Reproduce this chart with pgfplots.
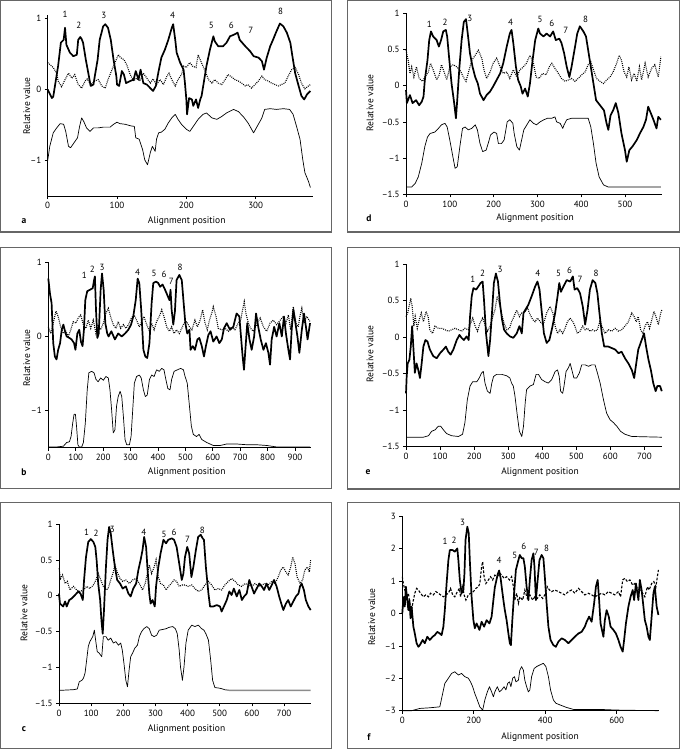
\documentclass[border=0pt]{standalone}
\usepackage{fontspec}
\setmainfont{PT Sans}
\usepackage{pgfplots}
\pgfplotsset{compat=1.18}
\newcommand\fs{\fontsize{9}{10.5}\selectfont}
\newcommand\fl{\fontsize{9.5}{11}\selectfont}
\tikzset{pk/.style={font=\fs, inner sep=0pt}}
\pgfplotsset{
 panel/.style={scale only axis, anchor=south west, axis lines=left,
   axis line style={-, line width=0.6pt}, tick align=outside, major tick length=3pt,
   tick style={line width=0.6pt, black}, clip=false, ticklabel style={font=\fs},
   /pgf/number format/assume math mode=true, xmin=0, enlargelimits=false},
 tl/.style={black, line width=1.7pt, line join=round},
 dl/.style={black, line width=1.1pt, dash pattern=on 0.9pt off 1.1pt},
 nl/.style={black, line width=0.7pt, line join=round},
}
\begin{document}
\begin{tikzpicture}
\useasboundingbox (0,0) rectangle (680pt,-749pt);
\begin{scope}[draw=black!60, line width=1.2pt]
\draw (0.6pt,-0.6pt) rectangle (331.7pt,-232pt);
\draw (347.5pt,-0.6pt) rectangle (679.4pt,-232pt);
\draw (0.6pt,-247.5pt) rectangle (331.7pt,-488.5pt);
\draw (347.5pt,-247.5pt) rectangle (679.4pt,-489pt);
\draw (0.6pt,-502.5pt) rectangle (331.7pt,-748.4pt);
\draw (347.5pt,-502.5pt) rectangle (679.4pt,-748.4pt);
\end{scope}
% ---------- panel a ----------
\begin{axis}[panel, at={(47.7pt,-196pt)}, width=264.8pt, height=181pt,
  xmax=382, ymin=-1.5, ymax=1.05, xtick={0,100,200,300},
  ytick={-1,0,1}, yticklabels={\textendash1,0,1}]
\addplot[tl] coordinates {(0,0.0)(6,-0.12)(8,-0.1)(15,0.33)(19,0.66)(23,0.7)(25,0.87)(27,0.63)(32,0.52)(37,0.47)(42,0.49)(44,0.7)(47,0.74)(49,0.71)(51,0.66)(55,0.42)(59,0.21)(62,0.05)(66,0.07)(68,0.19)(72,0.42)(75,0.7)(80,0.89)(83,0.92)(87,0.87)(91,0.7)(95,0.42)(99,0.19)(100,0.07)(103,0.05)(107,0.26)(110,0.21)(113,0.09)(119,0.12)(124,0.14)(127,0.26)(131,0.14)(134,0.28)(138,0.09)(143,0.07)(148,0.02)(152,-0.02)(156,0.05)(160,0.26)(164,0.45)(169,0.56)(174,0.7)(179,0.87)(181,0.92)(184,0.7)(186,0.52)(191,0.38)(196,0.28)(198,0.09)(200,-0.14)(201,-0.35)(204,-0.12)(208,-0.14)(210,-0.23)(214,-0.14)(217,-0.26)(220,-0.14)(222,-0.09)(225,0.09)(229,0.33)(234,0.56)(239,0.75)(241,0.68)(246,0.61)(253,0.61)(258,0.66)(263,0.75)(268,0.77)(274,0.8)(277,0.7)(285,0.61)(292,0.54)(297,0.47)(304,0.45)(309,0.4)(312,0.28)(316,0.45)(321,0.61)(325,0.7)(330,0.82)(335,0.93)(340,0.89)(345,0.8)(350,0.66)(353,0.47)(357,0.23)(362,0.05)(366,-0.09)(370,-0.14)(374,-0.07)(379,-0.02)};
\addplot[dl] coordinates {(0,0.38)(8,0.31)(13,0.23)(15,0.12)(20,0.04)(25,0.14)(30,0.23)(35,0.16)(39,0.21)(44,0.07)(49,0.02)(54,0.12)(57,0.15)(62,0.07)(68,0.12)(73,0.14)(78,0.05)(83,0.02)(87,0.14)(92,0.26)(97,0.38)(102,0.49)(105,0.45)(110,0.42)(114,0.35)(119,0.21)(124,0.12)(128,0.16)(133,0.12)(138,0.23)(143,0.16)(148,0.09)(152,0.15)(157,0.07)(162,0.14)(167,0.07)(172,0.19)(175,0.23)(179,0.14)(184,0.05)(188,0.14)(193,0.21)(196,0.33)(200,0.31)(205,0.38)(209,0.33)(214,0.31)(217,0.49)(220,0.42)(224,0.33)(227,0.26)(232,0.14)(237,0.09)(241,0.14)(246,0.09)(251,0.07)(256,0.14)(260,0.21)(265,0.18)(270,0.14)(275,0.12)(280,0.09)(285,0.05)(289,0.07)(294,0.02)(299,0.07)(304,0.12)(309,0.19)(313,0.14)(318,0.12)(323,0.09)(328,0.07)(333,0.05)(337,0.07)(342,0.09)(347,0.19)(352,0.28)(357,0.31)(362,0.21)(366,0.09)(371,0.01)(376,0.05)(379,0.07)};
\addplot[nl] coordinates {(0,-1.0)(3,-0.8)(8,-0.61)(13,-0.54)(18,-0.48)(23,-0.49)(26,-0.59)(30,-0.8)(33,-0.82)(38,-0.75)(43,-0.68)(46,-0.52)(49,-0.4)(52,-0.45)(56,-0.54)(61,-0.59)(66,-0.54)(73,-0.54)(80,-0.53)(90,-0.53)(95,-0.49)(100,-0.46)(104,-0.48)(112,-0.49)(119,-0.51)(125,-0.52)(127,-0.68)(132,-0.7)(137,-0.85)(140,-0.99)(144,-1.06)(148,-0.89)(151,-0.8)(155,-0.87)(157,-0.7)(160,-0.61)(164,-0.6)(169,-0.56)(174,-0.47)(179,-0.4)(184,-0.35)(188,-0.42)(193,-0.49)(200,-0.56)(205,-0.59)(210,-0.52)(217,-0.42)(224,-0.35)(229,-0.33)(237,-0.4)(244,-0.42)(251,-0.38)(258,-0.33)(268,-0.28)(275,-0.31)(282,-0.38)(289,-0.47)(293,-0.54)(297,-0.61)(301,-0.54)(309,-0.4)(313,-0.28)(321,-0.27)(330,-0.28)(340,-0.27)(349,-0.28)(354,-0.35)(359,-0.52)(364,-0.7)(368,-0.99)(371,-1.17)(376,-1.29)(379,-1.38)};
\node[pk] at (axis cs:25,1.06) {1};
\node[pk] at (axis cs:45,0.9) {2};
\node[pk] at (axis cs:81,1.05) {3};
\node[pk] at (axis cs:180,1.05) {4};
\node[pk] at (axis cs:236,0.9) {5};
\node[pk] at (axis cs:265,0.9) {6};
\node[pk] at (axis cs:293,0.84) {7};
\node[pk] at (axis cs:336,1.1) {8};
\end{axis}
% ---------- panel d ----------
\begin{axis}[panel, at={(406pt,-194.3pt)}, width=256.2pt, height=181pt,
  xmax=585, ymin=-1.5, ymax=1, xtick={0,100,200,300,400,500},
  ytick={-1.5,-1,-0.5,0,0.5,1}, yticklabels={\textendash1.5,\textendash1,\textendash0.5,0,0.5,1}]
\addplot[tl] coordinates {(0,-0.06)(2,-0.24)(9,-0.13)(15,-0.24)(23,-0.2)(30,-0.27)(36,-0.22)(40,-0.15)(43,0.08)(49,0.35)(53,0.63)(57,0.75)(62,0.68)(70,0.63)(75,0.54)(80,0.63)(85,0.75)(91,0.77)(94,0.68)(99,0.35)(104,0.03)(110,-0.24)(114,-0.45)(117,-0.2)(122,0.26)(127,0.63)(132,0.88)(137,0.92)(141,0.72)(146,0.45)(152,0.26)(158,0.12)(164,0.03)(169,-0.11)(177,-0.2)(184,-0.13)(192,-0.08)(199,-0.01)(207,0.08)(215,0.17)(222,0.31)(230,0.54)(237,0.72)(241,0.77)(245,0.59)(251,0.26)(256,0.08)(262,-0.01)(266,-0.11)(272,-0.04)(278,-0.15)(283,0.03)(289,0.35)(295,0.63)(302,0.79)(306,0.72)(314,0.68)(321,0.72)(329,0.68)(336,0.75)(342,0.63)(350,0.65)(355,0.59)(361,0.45)(367,0.26)(373,0.12)(378,0.26)(386,0.54)(391,0.72)(397,0.82)(405,0.75)(411,0.68)(416,0.49)(422,0.26)(428,0.03)(434,-0.2)(443,-0.27)(452,-0.34)(458,-0.52)(462,-0.61)(467,-0.41)(473,-0.34)(479,-0.24)(485,-0.38)(492,-0.66)(500,-0.89)(504,-1.05)(510,-0.89)(517,-0.84)(527,-0.75)(534,-0.66)(542,-0.57)(548,-0.47)(553,-0.29)(559,-0.38)(565,-0.47)(572,-0.59)(576,-0.43)(582,-0.47)};
\addplot[dl] coordinates {(0,0.49)(5,0.35)(9,0.17)(13,0.26)(18,0.12)(24,0.26)(30,0.1)(38,0.06)(43,0.12)(51,0.19)(56,0.31)(62,0.22)(70,0.08)(76,0.15)(81,0.29)(87,0.19)(93,0.08)(100,0.26)(108,0.29)(116,0.26)(123,0.22)(131,0.12)(137,0.06)(142,0.17)(150,0.35)(158,0.42)(165,0.49)(173,0.38)(178,0.22)(184,0.1)(192,0.19)(199,0.31)(207,0.38)(215,0.26)(222,0.17)(230,0.19)(237,0.1)(245,0.22)(253,0.12)(260,0.22)(268,0.26)(275,0.31)(283,0.42)(291,0.31)(297,0.12)(304,0.1)(312,0.17)(320,0.15)(327,0.26)(333,0.31)(340,0.24)(348,0.17)(355,0.1)(363,0.06)(371,0.08)(378,0.1)(386,0.06)(393,0.1)(401,0.15)(409,0.19)(416,0.29)(422,0.33)(428,0.22)(435,0.1)(443,0.06)(451,0.03)(458,0.08)(466,0.12)(473,0.19)(481,0.31)(487,0.42)(492,0.35)(498,0.19)(504,0.12)(509,0.26)(515,0.08)(521,0.17)(527,0.06)(533,0.26)(538,0.08)(546,0.31)(553,0.12)(561,0.24)(568,0.29)(576,0.12)(582,0.4)};
\addplot[nl] coordinates {(0,-1.4)(13,-1.4)(21,-1.35)(28,-1.26)(36,-1.07)(43,-0.84)(49,-0.71)(55,-0.66)(66,-0.64)(74,-0.59)(81,-0.54)(89,-0.52)(94,-0.57)(100,-0.75)(107,-0.98)(112,-1.14)(117,-1.12)(123,-0.84)(129,-0.59)(135,-0.57)(142,-0.61)(150,-0.59)(158,-0.54)(163,-0.61)(169,-0.8)(175,-0.91)(183,-0.89)(189,-0.77)(193,-0.68)(201,-0.64)(207,-0.66)(211,-0.8)(218,-0.8)(224,-0.75)(228,-0.61)(231,-0.5)(237,-0.47)(244,-0.52)(247,-0.66)(253,-0.84)(259,-0.89)(264,-0.75)(269,-0.61)(276,-0.54)(283,-0.47)(291,-0.52)(298,-0.54)(306,-0.5)(315,-0.47)(323,-0.45)(333,-0.45)(340,-0.43)(344,-0.5)(352,-0.52)(358,-0.59)(361,-0.54)(367,-0.47)(378,-0.45)(390,-0.45)(405,-0.45)(416,-0.45)(422,-0.57)(428,-0.8)(434,-1.07)(441,-1.26)(451,-1.37)(462,-1.4)(582,-1.4)};
\node[pk] at (axis cs:53,0.85) {1};
\node[pk] at (axis cs:89,0.87) {2};
\node[pk] at (axis cs:146,0.93) {3};
\node[pk] at (axis cs:239,0.87) {4};
\node[pk] at (axis cs:306,0.91) {5};
\node[pk] at (axis cs:333,0.86) {6};
\node[pk] at (axis cs:365,0.77) {7};
\node[pk] at (axis cs:410,0.92) {8};
\end{axis}
% ---------- panel b ----------
\begin{axis}[panel, at={(48.3pt,-447.7pt)}, width=262.3pt, height=185.4pt,
  xmax=957, ymin=-1.5, ymax=1, xtick={0,100,...,900},
  ytick={-1,0,1}, yticklabels={\textendash1,0,1}]
\addplot[tl] coordinates {(0,0.78)(6,0.58)(12,0.45)(18,-0.09)(24,-0.27)(30,-0.31)(36,-0.18)(43,-0.09)(49,0.09)(55,0.16)(61,0.07)(67,0.0)(77,-0.02)(85,-0.04)(94,-0.09)(99,-0.18)(106,0.04)(113,0.09)(119,-0.07)(125,-0.13)(130,0.09)(135,0.49)(142,0.61)(152,0.63)(162,0.65)(167,0.76)(170,0.81)(174,0.36)(179,-0.02)(184,0.04)(191,0.63)(196,0.85)(202,0.63)(208,0.18)(215,0.04)(220,0.0)(230,0.07)(243,-0.04)(255,0.04)(268,0.0)(280,0.04)(292,0.09)(302,0.16)(310,0.27)(319,0.49)(326,0.78)(332,0.72)(339,0.36)(347,-0.18)(354,-0.27)(361,-0.29)(369,-0.09)(377,0.45)(383,0.72)(393,0.74)(401,0.72)(408,0.67)(417,0.7)(426,0.63)(434,0.56)(442,0.49)(446,0.63)(450,0.36)(456,0.16)(462,0.34)(468,0.76)(478,0.83)(487,0.76)(493,0.49)(500,0.18)(507,0.04)(515,0.09)(519,-0.18)(527,-0.13)(535,-0.18)(544,-0.04)(551,-0.02)(560,-0.13)(568,-0.27)(575,-0.13)(584,0.02)(592,0.07)(602,-0.07)(614,0.0)(624,-0.09)(633,-0.04)(641,0.11)(651,0.18)(663,0.09)(675,0.13)(687,0.31)(697,0.27)(703,0.0)(709,-0.27)(714,-0.45)(719,-0.18)(726,0.18)(734,-0.04)(742,-0.18)(751,0.0)(758,0.31)(766,0.13)(775,-0.04)(785,-0.18)(794,-0.09)(803,-0.22)(809,-0.38)(815,-0.04)(824,0.13)(833,0.0)(843,0.18)(852,0.0)(860,0.27)(867,0.04)(876,-0.18)(882,-0.31)(888,0.09)(894,0.36)(900,0.22)(909,0.0)(916,-0.22)(925,0.09)(933,0.31)(940,0.13)(946,-0.04)(955,0.18)};
\addplot[dl] coordinates {(0,0.13)(9,0.04)(18,0.18)(28,0.34)(36,0.27)(45,0.13)(55,0.04)(64,0.07)(73,0.0)(82,0.09)(91,0.2)(101,0.18)(109,0.25)(118,0.29)(128,0.16)(137,0.11)(146,0.22)(155,0.11)(164,0.22)(174,0.04)(182,0.16)(191,0.09)(201,0.18)(210,0.31)(219,0.38)(227,0.27)(237,0.16)(247,0.11)(255,0.2)(264,0.11)(274,0.16)(283,0.11)(293,0.16)(303,0.25)(313,0.29)(322,0.22)(332,0.13)(341,0.2)(349,0.27)(359,0.16)(369,0.07)(377,0.18)(386,0.09)(395,0.2)(405,0.27)(414,0.36)(422,0.27)(432,0.13)(442,0.07)(450,0.13)(459,0.04)(468,0.09)(478,0.04)(487,0.11)(495,0.18)(505,0.2)(515,0.13)(524,0.09)(535,0.22)(544,0.13)(554,0.22)(563,0.36)(572,0.18)(580,0.09)(588,0.22)(596,0.31)(602,0.4)(612,0.27)(620,0.11)(633,0.09)(645,0.11)(657,0.07)(669,0.13)(681,0.09)(693,0.18)(702,0.22)(709,0.36)(715,0.47)(721,0.31)(730,0.18)(738,0.11)(748,0.07)(760,0.16)(773,0.25)(785,0.13)(797,0.07)(809,0.18)(821,0.22)(833,0.16)(846,0.22)(858,0.27)(867,0.18)(876,0.29)(884,0.09)(894,0.4)(904,0.18)(912,0.13)(918,0.27)(925,0.38)(933,0.18)(943,0.27)(955,0.2)};
\addplot[nl] coordinates {(0,-1.49)(30,-1.49)(55,-1.48)(67,-1.43)(77,-1.42)(83,-1.35)(89,-1.17)(94,-1.05)(99,-1.05)(103,-1.21)(108,-1.46)(113,-1.49)(122,-1.49)(128,-1.43)(135,-1.17)(142,-0.72)(148,-0.49)(158,-0.47)(167,-0.49)(174,-0.58)(182,-0.61)(191,-0.56)(201,-0.59)(210,-0.54)(219,-0.56)(225,-0.72)(231,-0.99)(237,-1.3)(243,-1.26)(249,-0.94)(255,-0.81)(262,-0.74)(268,-0.81)(274,-1.08)(280,-1.39)(286,-1.46)(296,-1.46)(302,-1.35)(308,-0.99)(314,-0.63)(322,-0.54)(332,-0.52)(339,-0.56)(347,-0.72)(354,-0.81)(361,-0.79)(369,-0.58)(377,-0.52)(386,-0.54)(395,-0.45)(405,-0.47)(414,-0.43)(422,-0.45)(429,-0.58)(436,-0.7)(444,-0.72)(450,-0.58)(459,-0.47)(471,-0.45)(483,-0.43)(493,-0.45)(499,-0.54)(507,-0.63)(515,-0.94)(522,-1.21)(529,-1.32)(541,-1.35)(550,-1.32)(560,-1.39)(578,-1.43)(602,-1.47)(627,-1.47)(651,-1.45)(687,-1.45)(724,-1.46)(760,-1.46)(797,-1.47)(833,-1.49)(955,-1.49)};
\node[pk] at (axis cs:131,0.82) {1};
\node[pk] at (axis cs:161,0.9) {2};
\node[pk] at (axis cs:196,0.93) {3};
\node[pk] at (axis cs:326,0.86) {4};
\node[pk] at (axis cs:386,0.85) {5};
\node[pk] at (axis cs:422,0.84) {6};
\node[pk] at (axis cs:449,0.74) {7};
\node[pk] at (axis cs:481,0.93) {8};
\end{axis}
% ---------- panel e ----------
\begin{axis}[panel, at={(406pt,-446.7pt)}, width=256.1pt, height=182.7pt,
  xmax=752, ymin=-1.5, ymax=1, xtick={0,100,...,700},
  ytick={-1.5,-1,-0.5,0,0.5,1}, yticklabels={\textendash1.5,\textendash1,\textendash0.5,0,0.5,1}]
\addplot[tl] coordinates {(0,-0.77)(2,-0.54)(5,-0.36)(10,-0.31)(14,-0.13)(18,0.15)(22,-0.17)(26,-0.49)(31,-0.36)(36,-0.45)(41,-0.56)(46,-0.36)(51,-0.13)(57,-0.04)(63,-0.06)(70,-0.17)(80,-0.26)(90,-0.29)(100,-0.22)(110,-0.17)(117,-0.13)(124,-0.2)(131,-0.24)(139,-0.17)(149,-0.04)(157,0.03)(163,-0.01)(170,-0.04)(178,0.01)(184,-0.04)(188,0.28)(193,0.56)(198,0.67)(206,0.65)(212,0.69)(219,0.74)(225,0.76)(229,0.51)(235,0.05)(242,-0.26)(247,-0.04)(253,0.37)(258,0.74)(264,0.87)(270,0.76)(276,0.46)(282,0.24)(288,0.1)(296,0.05)(305,0.01)(315,-0.01)(325,0.05)(333,0.15)(340,0.05)(345,0.33)(350,0.37)(359,0.44)(369,0.56)(379,0.69)(386,0.76)(392,0.65)(398,0.37)(405,0.05)(413,-0.08)(421,-0.04)(428,0.1)(438,0.33)(445,0.56)(450,0.74)(455,0.62)(462,0.69)(472,0.78)(482,0.76)(490,0.83)(495,0.65)(503,0.67)(511,0.6)(519,0.42)(526,0.17)(533,0.37)(540,0.65)(548,0.78)(556,0.74)(562,0.6)(568,0.33)(575,0.05)(582,-0.13)(594,-0.13)(604,-0.15)(614,-0.17)(624,-0.22)(633,-0.2)(643,-0.29)(653,-0.36)(663,-0.45)(670,-0.56)(676,-0.36)(682,-0.17)(692,-0.04)(699,0.05)(705,-0.13)(712,-0.31)(719,-0.45)(726,-0.63)(733,-0.74)(738,-0.67)(746,-0.67)(751,-0.74)};
\addplot[dl] coordinates {(0,0.28)(5,0.33)(10,0.44)(14,0.53)(18,0.42)(23,0.15)(27,0.28)(33,0.12)(39,0.24)(45,0.33)(51,0.21)(59,0.35)(65,0.28)(70,0.1)(78,0.05)(85,0.15)(95,0.12)(105,0.12)(115,0.1)(124,0.08)(134,0.1)(144,0.12)(154,0.1)(163,0.08)(173,0.12)(183,0.1)(190,0.19)(196,0.26)(203,0.15)(210,0.08)(217,0.19)(225,0.26)(232,0.17)(239,0.08)(247,0.15)(255,0.28)(261,0.37)(268,0.56)(274,0.46)(281,0.31)(288,0.19)(296,0.1)(304,0.12)(310,0.21)(317,0.28)(325,0.37)(333,0.28)(340,0.33)(350,0.35)(357,0.4)(364,0.31)(372,0.24)(379,0.21)(386,0.26)(394,0.21)(403,0.17)(413,0.33)(423,0.42)(431,0.33)(438,0.15)(445,0.05)(452,0.1)(460,0.05)(467,0.12)(474,0.21)(482,0.26)(490,0.21)(496,0.15)(503,0.05)(511,0.08)(519,0.15)(526,0.1)(533,0.12)(540,0.08)(548,0.1)(555,0.08)(562,0.1)(569,0.21)(578,0.12)(584,0.05)(594,0.1)(604,0.08)(614,0.12)(624,0.08)(633,0.1)(643,0.15)(653,0.21)(663,0.33)(670,0.28)(676,0.21)(682,0.28)(689,0.1)(695,0.05)(702,0.15)(709,0.21)(715,0.12)(722,0.24)(728,0.35)(734,0.28)(741,0.17)(748,0.33)(751,0.37)};
\addplot[nl] coordinates {(0,-1.37)(51,-1.37)(66,-1.35)(75,-1.29)(85,-1.27)(95,-1.22)(102,-1.22)(110,-1.27)(119,-1.32)(134,-1.35)(154,-1.36)(166,-1.33)(173,-1.17)(180,-0.86)(188,-0.67)(196,-0.61)(208,-0.61)(215,-0.56)(222,-0.49)(227,-0.47)(232,-0.63)(239,-0.74)(247,-0.77)(252,-0.63)(257,-0.54)(266,-0.51)(281,-0.51)(296,-0.53)(305,-0.56)(310,-0.63)(315,-0.67)(320,-0.81)(327,-1.08)(333,-1.29)(340,-1.36)(345,-1.22)(350,-0.9)(354,-0.72)(364,-0.67)(374,-0.65)(382,-0.51)(389,-0.51)(398,-0.58)(408,-0.61)(418,-0.63)(428,-0.58)(438,-0.47)(445,-0.45)(450,-0.54)(454,-0.74)(460,-0.77)(464,-0.67)(470,-0.47)(477,-0.42)(482,-0.36)(487,-0.45)(493,-0.56)(501,-0.56)(509,-0.49)(516,-0.38)(526,-0.38)(536,-0.4)(545,-0.38)(555,-0.38)(562,-0.49)(570,-0.63)(580,-0.86)(589,-1.04)(599,-1.13)(609,-1.17)(619,-1.22)(630,-1.29)(643,-1.33)(663,-1.36)(751,-1.37)};
\node[pk] at (axis cs:196,0.79) {1};
\node[pk] at (axis cs:225,0.87) {2};
\node[pk] at (axis cs:276,0.92) {3};
\node[pk] at (axis cs:387,0.87) {4};
\node[pk] at (axis cs:448,0.87) {5};
\node[pk] at (axis cs:480,0.91) {6};
\node[pk] at (axis cs:511,0.79) {7};
\node[pk] at (axis cs:558,0.87) {8};
\end{axis}
% ---------- panel c ----------
\begin{axis}[panel, at={(59pt,-703.3pt)}, width=252.3pt, height=179.3pt,
  xmax=785, ymin=-1.5, ymax=1, xtick={0,100,...,700},
  ytick={-1.5,-1,-0.5,0,0.5,1}, yticklabels={\textendash1.5,\textendash1,\textendash0.5,0,0.5,1}]
\addplot[tl] coordinates {(0,0.03)(3,-0.11)(8,-0.13)(13,-0.15)(19,-0.08)(24,-0.15)(32,-0.06)(39,-0.04)(50,0.01)(60,0.06)(67,0.03)(74,-0.06)(78,0.22)(84,0.54)(91,0.75)(99,0.79)(107,0.75)(113,0.68)(117,0.5)(122,0.17)(128,-0.06)(132,-0.34)(136,-0.53)(140,-0.2)(146,0.4)(151,0.78)(156,0.96)(161,0.87)(167,0.64)(174,0.4)(181,0.22)(190,0.17)(198,0.1)(208,0.13)(216,0.03)(223,-0.01)(231,0.1)(240,0.17)(247,0.36)(254,0.5)(260,0.64)(265,0.82)(271,0.68)(275,0.4)(281,0.03)(285,-0.11)(291,-0.06)(298,-0.15)(302,0.13)(309,0.4)(316,0.59)(325,0.78)(333,0.73)(340,0.78)(351,0.8)(358,0.78)(366,0.68)(374,0.45)(382,0.22)(387,0.31)(392,0.54)(399,0.68)(405,0.59)(412,0.26)(418,0.4)(426,0.64)(433,0.82)(441,0.85)(447,0.8)(451,0.78)(457,0.4)(465,0.03)(470,-0.15)(480,-0.15)(491,-0.13)(501,-0.15)(506,-0.22)(513,-0.15)(522,-0.06)(530,0.06)(537,0.01)(544,0.1)(553,-0.01)(561,0.08)(569,-0.06)(576,-0.01)(584,0.03)(592,0.22)(599,0.13)(607,0.03)(615,0.1)(623,0.17)(631,0.13)(638,0.08)(646,0.17)(654,0.08)(662,0.15)(669,0.22)(677,0.13)(685,-0.01)(693,-0.13)(698,-0.2)(706,-0.11)(713,-0.06)(721,-0.15)(729,-0.08)(737,-0.01)(745,0.03)(750,0.13)(755,0.17)(762,0.08)(768,-0.06)(776,-0.15)(783,-0.2)};
\addplot[dl] coordinates {(0,0.38)(5,0.24)(11,0.29)(19,0.17)(26,0.2)(34,0.08)(45,0.13)(55,0.08)(65,0.06)(76,0.08)(86,0.13)(96,0.1)(107,0.15)(115,0.22)(122,0.31)(130,0.22)(138,0.13)(146,0.08)(153,0.1)(161,0.22)(169,0.33)(174,0.43)(181,0.33)(190,0.24)(198,0.2)(208,0.22)(219,0.17)(229,0.22)(240,0.24)(250,0.17)(260,0.08)(268,0.17)(275,0.31)(281,0.43)(288,0.31)(296,0.4)(302,0.5)(309,0.26)(316,0.17)(325,0.15)(333,0.08)(341,0.13)(349,0.17)(358,0.22)(366,0.2)(374,0.13)(383,0.15)(392,0.15)(402,0.13)(413,0.15)(423,0.1)(433,0.06)(444,0.08)(454,0.15)(465,0.2)(475,0.15)(485,0.08)(496,0.1)(506,0.08)(516,0.15)(527,0.2)(537,0.24)(548,0.2)(558,0.15)(568,0.13)(579,0.17)(589,0.15)(599,0.13)(610,0.17)(620,0.13)(631,0.15)(641,0.17)(651,0.15)(662,0.2)(672,0.17)(682,0.26)(690,0.36)(698,0.4)(706,0.33)(713,0.29)(721,0.4)(727,0.54)(734,0.45)(741,0.26)(750,0.17)(758,0.22)(765,0.36)(773,0.4)(779,0.33)(783,0.5)};
\addplot[nl] coordinates {(0,-1.32)(45,-1.31)(57,-1.3)(63,-1.2)(71,-1.18)(76,-1.15)(81,-1.08)(86,-0.9)(91,-0.71)(96,-0.64)(105,-0.57)(110,-0.48)(114,-0.62)(119,-0.78)(125,-0.8)(133,-0.85)(138,-0.57)(146,-0.57)(153,-0.62)(161,-0.59)(169,-0.66)(177,-0.64)(185,-0.69)(192,-0.66)(197,-0.76)(202,-0.94)(208,-1.18)(213,-1.27)(218,-1.04)(223,-0.85)(229,-0.8)(236,-0.73)(244,-0.69)(250,-0.57)(257,-0.5)(264,-0.46)(273,-0.43)(281,-0.46)(288,-0.55)(296,-0.57)(304,-0.55)(312,-0.48)(323,-0.47)(333,-0.46)(343,-0.44)(354,-0.43)(362,-0.46)(368,-0.53)(374,-0.76)(378,-0.99)(384,-1.18)(389,-0.99)(395,-0.66)(402,-0.48)(413,-0.41)(423,-0.43)(433,-0.41)(444,-0.46)(451,-0.48)(457,-0.53)(465,-0.62)(472,-0.9)(478,-1.18)(485,-1.28)(501,-1.29)(516,-1.31)};
\addplot[black!45, line width=1.4pt] coordinates {(516,-1.31)(532,-1.32)(783,-1.32)};
\node[pk] at (axis cs:86,0.88) {1};
\node[pk] at (axis cs:115,0.87) {2};
\node[pk] at (axis cs:166,0.92) {3};
\node[pk] at (axis cs:264,0.89) {4};
\node[pk] at (axis cs:327,0.85) {5};
\node[pk] at (axis cs:358,0.88) {6};
\node[pk] at (axis cs:400,0.78) {7};
\node[pk] at (axis cs:446,0.91) {8};
\end{axis}
% ---------- panel f ----------
\begin{axis}[panel, at={(402.3pt,-710.7pt)}, width=257.2pt, height=194.7pt,
  xmax=720, ymin=-3, ymax=3, xtick={0,200,400,600},
  ytick={-3,-2,-1,0,1,2,3}, yticklabels={\textendash3,\textendash2,\textendash1,0,1,2,3}]
\addplot[tl] coordinates {(0,0.0)(2,0.31)(5,0.51)(7,0.21)(10,0.82)(14,0.41)(17,0.1)(20,0.41)(23,-0.15)(26,0.21)(31,-0.41)(35,-0.62)(40,-0.92)(45,-1.03)(49,-0.98)(57,-0.82)(63,-0.92)(70,-0.72)(77,-0.82)(85,-0.72)(91,-0.67)(98,-0.57)(105,-0.62)(110,-0.67)(115,-0.41)(119,0.1)(124,0.92)(129,1.64)(133,1.95)(141,1.95)(147,1.9)(154,2.0)(157,1.64)(161,1.03)(166,0.62)(171,0.72)(174,1.23)(177,2.26)(182,2.67)(186,2.47)(189,1.64)(194,0.51)(199,-0.21)(203,-0.46)(208,-0.31)(216,-0.51)(222,-0.26)(229,-0.41)(236,-0.21)(244,-0.31)(250,-0.1)(255,0.41)(259,0.8)(263,1.0)(267,1.2)(271,1.32)(275,1.1)(279,0.75)(283,0.41)(287,0.1)(292,-0.21)(297,-0.62)(301,-0.92)(304,-0.98)(308,-0.21)(313,0.62)(318,1.34)(325,1.64)(329,1.8)(334,1.7)(339,1.7)(343,1.44)(348,0.82)(353,0.41)(357,1.03)(362,1.64)(367,1.85)(370,1.44)(374,0.41)(378,0.92)(384,1.64)(390,1.8)(395,1.7)(399,1.13)(404,0.31)(409,-0.41)(415,-0.82)(423,-0.98)(430,-1.03)(437,-0.87)(446,-0.77)(455,-0.82)(465,-0.92)(474,-0.82)(483,-0.72)(493,-0.62)(502,-0.57)(511,-0.41)(516,-0.26)(523,-0.1)(530,-0.26)(537,0.31)(542,0.82)(547,1.03)(551,0.41)(555,-0.31)(563,-0.72)(567,-0.21)(572,0.1)(578,-0.1)(583,-0.41)(591,-0.51)(598,-0.62)(605,-0.82)(611,-1.03)(617,-1.18)(621,-0.82)(626,-0.31)(633,0.21)(639,0.51)(645,0.72)(649,0.41)(654,0.92)(661,0.41)(665,1.03)(670,0.72)(675,0.21)(679,-0.21)(684,-0.41)(689,-0.72)(693,-0.82)(698,-0.1)(703,0.62)(707,0.82)(712,0.21)(717,-0.05)};
\addplot[black, line width=1.1pt, dash pattern=on 2.6pt off 1.6pt] coordinates {(0,1.13)(3,0.92)(7,0.72)(12,0.51)(17,0.62)(21,0.31)(26,0.1)(31,0.41)(35,0.62)(40,0.77)(45,0.72)(51,0.62)(59,0.51)(66,0.57)(73,0.51)(79,0.62)(87,0.57)(94,0.67)(101,0.62)(107,0.57)(115,0.51)(122,0.57)(129,0.62)(135,0.77)(141,0.57)(147,0.51)(154,0.67)(160,0.77)(163,0.51)(169,0.82)(173,0.57)(178,0.41)(185,0.57)(191,0.62)(199,0.67)(206,0.77)(213,0.82)(217,0.92)(222,1.44)(225,1.59)(229,1.13)(234,0.92)(241,1.03)(247,1.13)(253,1.03)(259,1.18)(266,1.13)(273,1.24)(278,1.18)(285,1.08)(292,1.13)(300,1.03)(306,1.13)(311,0.82)(315,0.41)(320,0.62)(325,0.31)(329,0.51)(337,0.41)(343,0.72)(350,0.46)(357,0.57)(365,0.41)(371,0.51)(378,0.46)(385,0.57)(393,0.46)(399,0.57)(406,0.82)(412,0.72)(418,0.67)(427,0.72)(437,0.67)(446,0.62)(455,0.57)(465,0.67)(474,0.72)(483,0.62)(493,0.77)(502,0.67)(511,0.57)(521,0.62)(530,0.57)(539,0.51)(549,0.57)(558,0.62)(567,0.57)(577,0.67)(586,0.62)(595,0.57)(605,0.67)(611,0.51)(617,1.03)(623,1.08)(630,0.98)(637,1.03)(645,0.87)(651,0.92)(658,0.77)(665,0.72)(673,0.62)(679,0.51)(686,0.82)(691,0.72)(698,0.92)(704,0.98)(710,0.82)(714,1.13)(717,1.34)};
\addplot[nl] coordinates {(0,-3.0)(26,-3.0)(49,-2.93)(77,-2.91)(105,-2.88)(113,-2.47)(119,-2.16)(129,-2.0)(138,-1.85)(147,-1.8)(157,-1.9)(166,-1.85)(175,-1.95)(185,-2.0)(191,-2.11)(197,-2.26)(203,-2.47)(210,-2.67)(217,-2.88)(225,-2.98)(231,-2.67)(238,-2.42)(244,-2.26)(250,-2.42)(255,-2.57)(259,-2.42)(266,-2.26)(272,-2.42)(278,-2.36)(285,-2.26)(290,-2.36)(295,-2.16)(300,-2.11)(304,-2.26)(309,-2.0)(314,-1.95)(318,-2.11)(325,-2.06)(329,-1.75)(334,-1.64)(339,-1.75)(343,-2.06)(348,-2.26)(353,-2.42)(357,-2.36)(362,-1.95)(369,-1.7)(376,-1.64)(385,-1.59)(395,-1.54)(402,-1.64)(409,-1.95)(415,-2.36)(423,-2.67)(430,-2.77)(441,-2.82)(460,-2.9)(479,-2.96)(507,-2.96)(553,-2.96)(600,-2.98)(717,-3.0)};
\node[pk] at (axis cs:120,2.21) {1};
\node[pk] at (axis cs:145,2.24) {2};
\node[pk] at (axis cs:169,2.8) {3};
\node[pk] at (axis cs:271,1.62) {4};
\node[pk] at (axis cs:315,1.8) {5};
\node[pk] at (axis cs:340,2.07) {6};
\node[pk] at (axis cs:375,1.87) {7};
\node[pk] at (axis cs:404,2.0) {8};
\end{axis}
% ---------- labels ----------
\begin{scope}[font=\fl]
\node at (186.7pt,-221pt) {Alignment position};
\node at (535pt,-218pt) {Alignment position};
\node at (186.7pt,-472pt) {Alignment position};
\node at (540pt,-472pt) {Alignment position};
\node at (186.5pt,-729pt) {Alignment position};
\node at (540pt,-737pt) {Alignment position};
\node[rotate=90] at (26.7pt,-106pt) {Relative value};
\node[rotate=90] at (370pt,-103pt) {Relative value};
\node[rotate=90] at (26.7pt,-358pt) {Relative value};
\node[rotate=90] at (370pt,-354pt) {Relative value};
\node[rotate=90] at (24pt,-613pt) {Relative value};
\node[rotate=90] at (371.7pt,-617pt) {Relative value};
\node[font=\fl\bfseries] at (24pt,-221pt) {a};
\node[font=\fl\bfseries] at (369pt,-218pt) {d};
\node[font=\fl\bfseries] at (24pt,-472pt) {b};
\node[font=\fl\bfseries] at (368pt,-472pt) {e};
\node[font=\fl\bfseries] at (24pt,-729pt) {c};
\node[font=\fl\bfseries] at (369pt,-737pt) {f};
\end{scope}
\end{tikzpicture}
\end{document}
